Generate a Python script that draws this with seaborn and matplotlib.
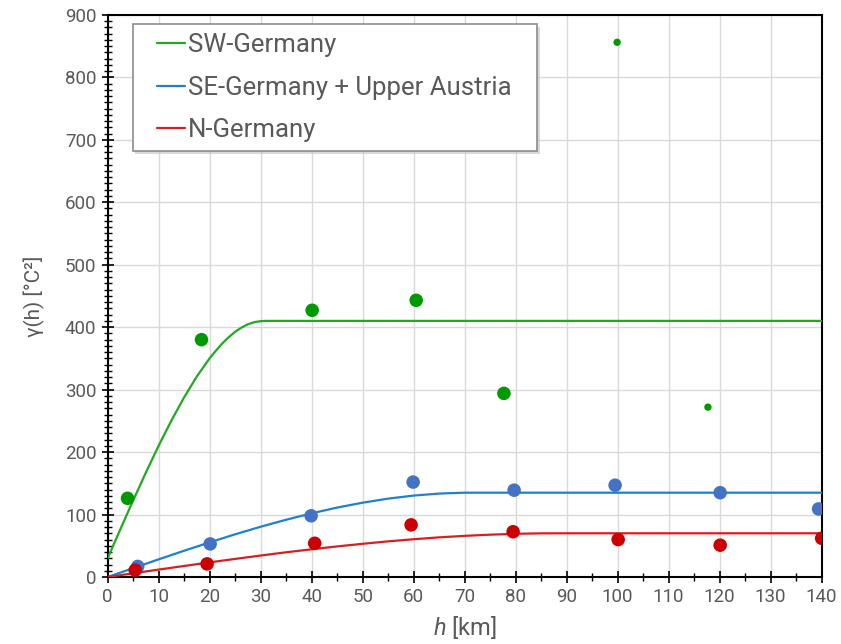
import numpy as np
import pandas as pd
import matplotlib
matplotlib.use("Agg")
import matplotlib.pyplot as plt
from matplotlib.ticker import MultipleLocator
from matplotlib.patches import Rectangle
import seaborn as sns

# ---- data ----
regions = ["SW-Germany", "SE-Germany + Upper Austria", "N-Germany"]

# empirical variogram points (h [km], gamma [°C²], weight class)
sw_h = [3.9, 18.4, 40.1, 60.5, 77.7, 99.9, 117.7]
sw_g = [126, 380, 427, 443, 294, 856, 272]
sw_w = ["large", "large", "large", "large", "large", "small", "small"]

se_h = [5.9, 20.1, 39.9, 59.9, 79.7, 99.5, 120.1, 139.4]
se_g = [17, 53, 98, 152, 139, 147, 135, 109]
se_w = ["large"] * 8

n_h = [5.4, 19.5, 40.6, 59.5, 79.5, 100.1, 120.1, 140.0]
n_g = [11, 21, 54, 83.5, 72.5, 60, 51, 62]
n_w = ["large"] * 8

# fitted model curves
sw_curve_h = [0, 2.5, 5, 7.5, 10, 12.5, 15, 17.5, 20, 21.25, 22.5, 23.75, 25, 26.25,
              27.5, 28.75, 30, 31, 140]
sw_curve_g = [30, 76.6, 122.6, 167.3, 210.2, 250.5, 287.7, 321.2, 350.2, 362.6, 374.2,
              384.0, 392.6, 399.3, 404.7, 408.0, 409.6, 410, 410]

se_curve_h = [0, 5, 10, 15, 20, 25, 30, 35, 40, 45, 50, 55, 60, 65, 70, 140]
se_curve_g = [0, 14.2, 28.3, 42.1, 55.5, 68.4, 80.5, 91.7, 102.0, 111.2, 119.0, 125.5, 130.4, 133.6, 135.0, 135]

n_curve_h = [0, 5, 10, 15, 20, 25, 30, 35, 40, 45, 50, 55, 60, 65, 70, 75, 80, 85, 90, 140]
n_curve_g = [0, 5.96, 11.9, 17.7, 23.5, 29.0, 34.4, 39.6, 44.4, 49.0, 53.2, 57.1, 60.5, 63.5, 65.9, 67.8, 69.2, 69.9, 70, 70]

line_colors = {"SW-Germany": "#22a822", "SE-Germany + Upper Austria": "#1f80d0", "N-Germany": "#d81f1f"}
point_colors = {"SW-Germany": "#009a00", "SE-Germany + Upper Austria": "#4472c4", "N-Germany": "#cc0000"}

pts = pd.concat([
    pd.DataFrame({"h": sw_h, "g": sw_g, "w": sw_w, "region": regions[0]}),
    pd.DataFrame({"h": se_h, "g": se_g, "w": se_w, "region": regions[1]}),
    pd.DataFrame({"h": n_h, "g": n_g, "w": n_w, "region": regions[2]}),
], ignore_index=True)

curves = pd.concat([
    pd.DataFrame({"h": sw_curve_h, "g": sw_curve_g, "region": regions[0]}),
    pd.DataFrame({"h": se_curve_h, "g": se_curve_g, "region": regions[1]}),
    pd.DataFrame({"h": n_curve_h, "g": n_curve_g, "region": regions[2]}),
], ignore_index=True)

sns.set_theme(style="white")
plt.rcParams["font.family"] = ["Roboto", "DejaVu Sans"]
plt.rcParams["mathtext.fontset"] = "custom"
plt.rcParams["mathtext.rm"] = "Roboto"
plt.rcParams["mathtext.it"] = "Roboto:italic"

fig = plt.figure(figsize=(8.41, 6.44), dpi=100)
ax = fig.add_axes([0.128, 0.104, 0.849, 0.873])

sns.lineplot(data=curves, x="h", y="g", hue="region", palette=line_colors,
             hue_order=regions, linewidth=1.6, ax=ax, zorder=3, sort=False)
sns.scatterplot(data=pts, x="h", y="g", hue="region", palette=point_colors,
                hue_order=regions, size="w", sizes={"large": 95, "small": 28},
                linewidth=0, ax=ax, zorder=4, legend=False)

ax.set_xlim(0, 140)
ax.set_ylim(0, 900)
ax.xaxis.set_major_locator(MultipleLocator(10))
ax.xaxis.set_minor_locator(MultipleLocator(5))
ax.yaxis.set_major_locator(MultipleLocator(100))
ax.yaxis.set_minor_locator(MultipleLocator(10))
ax.grid(True, which="major", color="#d9d9d9", linewidth=1.0, zorder=0)
ax.set_axisbelow(True)

for s in ax.spines.values():
    s.set_color("black")
    s.set_linewidth(1.5)
ax.tick_params(which="major", direction="inout", length=8, width=1.2, color="black",
               labelsize=13.5, labelcolor="#595959", pad=4,
               bottom=True, left=True)
ax.tick_params(which="minor", direction="inout", length=6, width=1.0, color="black",
               bottom=True, left=True)

ax.set_xlabel(r"$h$ [km]", fontsize=17, color="#595959", labelpad=6)
ax.set_ylabel("γ(h) [°C²]", fontsize=15, color="#595959", labelpad=14)

# legend box (frame + soft shadow) drawn as axes-fraction patches
box_x0, box_y0, box_w, box_h = 0.035, 0.758, 0.566, 0.226
shadow = Rectangle((box_x0 + 0.004, box_y0 - 0.006), box_w, box_h, transform=ax.transAxes,
                   facecolor="#c9c9c9", edgecolor="none", alpha=0.7, zorder=5)
frame = Rectangle((box_x0, box_y0), box_w, box_h, transform=ax.transAxes,
                  facecolor="white", edgecolor="#8c8c8c", linewidth=1.2, zorder=5.1)
ax.add_patch(shadow)
ax.add_patch(frame)

handles, labels = ax.get_legend_handles_labels()
leg = ax.legend(handles, labels, loc="upper left", bbox_to_anchor=(0.069, 0.967),
                fontsize=18.5, frameon=False, handlelength=1.1,
                handletextpad=0.1, borderpad=0, borderaxespad=0,
                labelspacing=0.72, labelcolor="#595959")
leg.set_zorder(6)

fig.savefig("out.png", dpi=100)
